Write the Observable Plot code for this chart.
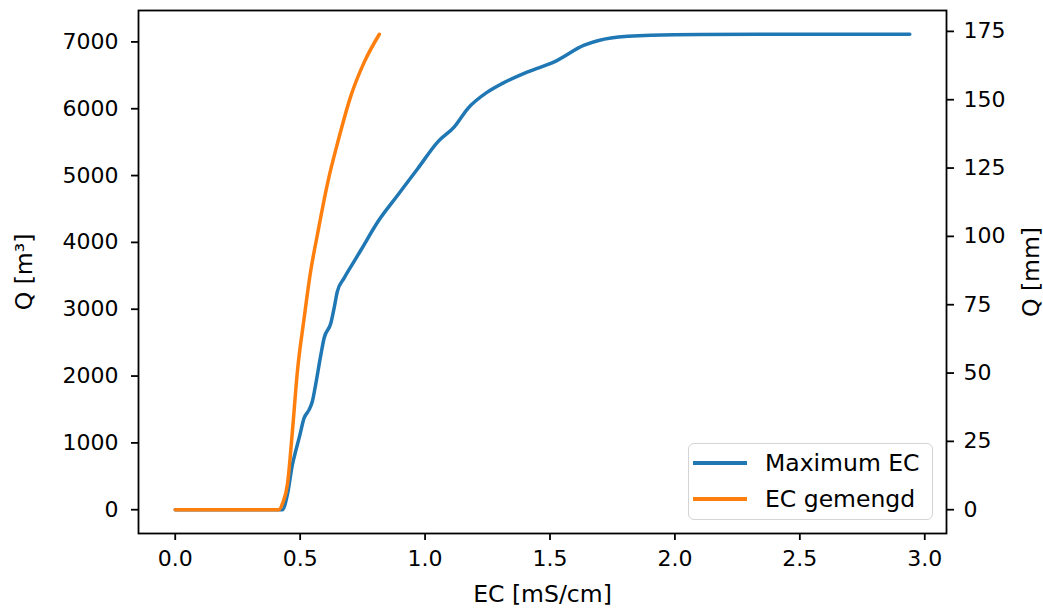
<!DOCTYPE html>
<html>
<head>
<meta charset="utf-8">
<script src="https://cdn.jsdelivr.net/npm/d3@7"></script>
<script src="https://cdn.jsdelivr.net/npm/@observablehq/plot@0.6"></script>
<style>
  body { margin: 0; background: #fff; font-family: "DejaVu Sans", sans-serif; }
  #wrap { position: relative; width: 1043px; height: 610px; }
  .legend { position: absolute; left: 688px; top: 443px; width: 245px; height: 77px; box-sizing: border-box;
            border: 1.5px solid #d4d4d4; border-radius: 6px; background: rgba(255,255,255,0.8);
            font-size: 23.5px; color: #000; }
  .item { position: absolute; left: 0; height: 30px; display: flex; align-items: center; white-space: nowrap; }
  .sw { width: 54px; height: 3.5px; margin-left: 4px; margin-right: 18px; }
</style>
</head>
<body>
<div id="wrap"></div>
<script>
// ---- data ----
const ecMax = [0, 0.429, 0.449, 0.469, 0.482, 0.496, 0.516, 0.536, 0.549, 0.562, 0.583, 0.596, 0.623, 0.636, 0.649, 0.676, 0.716, 0.744, 0.811, 0.891, 0.971, 1.051, 1.117, 1.171, 1.251, 1.31, 1.411, 1.517, 1.637, 1.744, 1.904, 2.104, 2.5, 2.94];
const qMax  = [0, 0, 227, 676, 875, 1074, 1373, 1498, 1623, 1872, 2321, 2569, 2793, 3018, 3267, 3466, 3716, 3890, 4309, 4709, 5106, 5505, 5729, 6003, 6253, 6380, 6552, 6701, 6951, 7060, 7100, 7112, 7115, 7115];

const ecMix = [0, 0.414, 0.43, 0.449, 0.469, 0.489, 0.516, 0.542, 0.569, 0.611, 0.651, 0.704, 0.757, 0.817];
const qMix  = [0, 0, 100, 377, 1174, 2071, 2868, 3567, 4115, 4907, 5505, 6203, 6701, 7115];

const seriesNames = ["Maximum EC", "EC gemengd"];
const seriesColors = ["#1f77b4", "#ff7f0e"];

const xTicks = [0, 0.5, 1.0, 1.5, 2.0, 2.5, 3.0];
const qTicks = [0, 1000, 2000, 3000, 4000, 5000, 6000, 7000];
const mmTicks = [0, 25, 50, 75, 100, 125, 150, 175];
const m3PerMm = 40.9; // Q [m³] per Q [mm]

// ---- build ----
const maxData = ecMax.map((x, i) => ({x, q: qMax[i]}));
const mixData = ecMix.map((x, i) => ({x, q: qMix[i]}));

const tickFont = 22;
const labelFont = 23.5;

const chart = Plot.plot({
  width: 1043,
  height: 610,
  marginLeft: 138,
  marginRight: 97,
  marginTop: 10,
  marginBottom: 77,
  style: { fontFamily: "DejaVu Sans", fontSize: tickFont + "px", color: "#000", background: "white" },
  x: { domain: [-0.147, 3.087] },
  y: { domain: [-356, 7470] },
  marks: [
    Plot.axisX(xTicks, {
      tickSize: 7, tickPadding: 10, strokeWidth: 1.8, fontSize: tickFont,
      tickFormat: d => d.toFixed(1),
      label: null
    }),
    Plot.axisX({
      ticks: [], tickSize: 0, fontSize: labelFont,
      label: "EC [mS/cm]", labelAnchor: "center", labelArrow: "none", labelOffset: 68
    }),
    Plot.axisY(qTicks, {
      anchor: "left", tickSize: 7, tickPadding: 13, strokeWidth: 1.8, fontSize: tickFont,
      tickFormat: d => String(d), label: null
    }),
    Plot.axisY({
      anchor: "left", ticks: [], tickSize: 0, fontSize: labelFont,
      label: "Q [m³]", labelAnchor: "center", labelArrow: "none", labelOffset: 123
    }),
    Plot.axisY(mmTicks.map(d => d * m3PerMm), {
      anchor: "right", tickSize: 7, tickPadding: 10, strokeWidth: 1.8, fontSize: tickFont,
      tickFormat: d => String(Math.round(d / m3PerMm)), label: null
    }),
    Plot.axisY({
      anchor: "right", ticks: [], tickSize: 0, fontSize: labelFont,
      label: "Q [mm]", labelAnchor: "center", labelArrow: "none", labelOffset: 92
    }),
    Plot.line(maxData, { x: "x", y: "q", stroke: seriesColors[0], strokeWidth: 3.5, curve: "monotone-x" }),
    Plot.line(mixData, { x: "x", y: "q", stroke: seriesColors[1], strokeWidth: 3.5, curve: "monotone-x" }),
    Plot.frame({ stroke: "black", strokeWidth: 1.8 })
  ]
});

const wrap = document.getElementById("wrap");
wrap.appendChild(chart);

// legend (inside the axes, lower right)
const legend = document.createElement("div");
legend.className = "legend";
const itemTops = [4, 40];
seriesNames.forEach((name, i) => {
  const it = document.createElement("div");
  it.className = "item";
  it.style.top = itemTops[i] + "px";
  const sw = document.createElement("span");
  sw.className = "sw";
  sw.style.background = seriesColors[i];
  const tx = document.createElement("span");
  tx.textContent = name;
  it.appendChild(sw);
  it.appendChild(tx);
  legend.appendChild(it);
});
wrap.appendChild(legend);
</script>
</body>
</html>
